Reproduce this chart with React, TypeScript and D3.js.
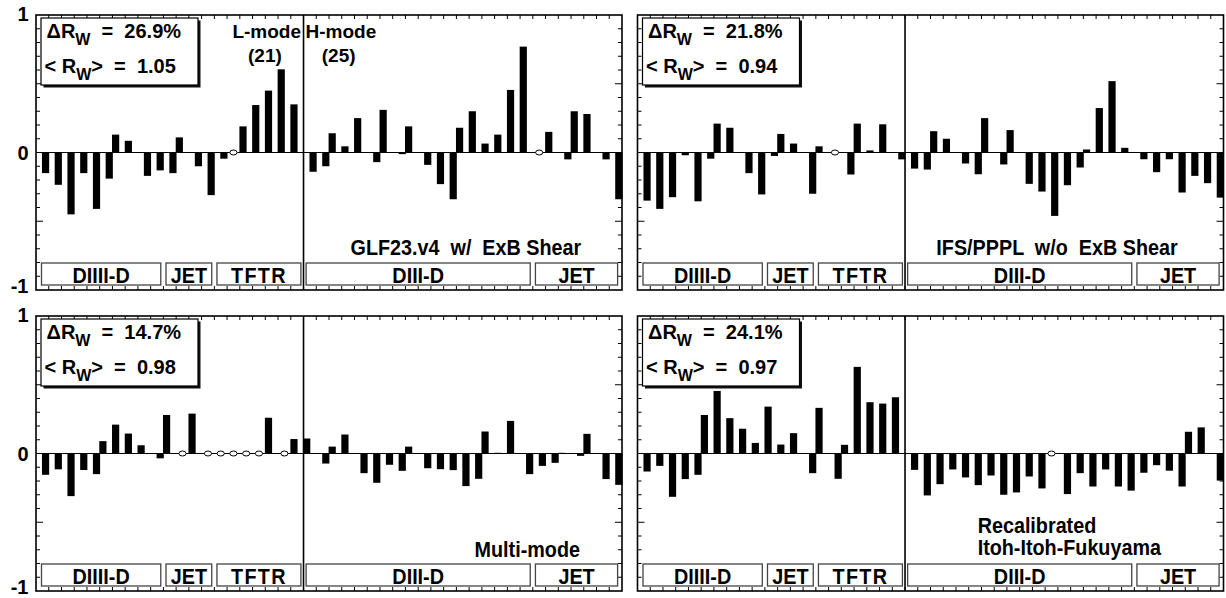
import React from "react";
import * as d3 from "d3";

// ---------- data ----------
const L_COUNT = 21;
const H_COUNT = 25;

// (R_sim - R_exp)/R_exp per discharge; null = no value (open circle)
const glf23: (number | null)[] = [
  -0.15, -0.235, -0.45, -0.15, -0.41, -0.19, 0.13, 0.085, -0.17, -0.13, -0.15, 0.11, -0.1, -0.31, -0.045, null, 0.19, 0.345, 0.45, 0.605, 0.35,
  -0.14, -0.1, 0.14, 0.045, 0.25, -0.07, 0.31, -0.012, 0.19, -0.09, -0.23, -0.34, 0.18, 0.3, 0.065, 0.13, 0.455, 0.77, null, 0.15, -0.05, 0.3, 0.28, -0.05, -0.34,
];
const ifsPppl: (number | null)[] = [
  -0.35, -0.41, -0.325, -0.02, -0.355, -0.045, 0.21, 0.18, -0.15, -0.305, -0.025, 0.135, 0.065, -0.3, 0.045, null, -0.16, 0.21, 0.015, 0.205, -0.05,
  -0.117, -0.124, 0.155, 0.1, -0.08, -0.158, 0.25, -0.087, 0.163, -0.228, -0.284, -0.461, -0.238, -0.109, 0.022, 0.323, 0.519, 0.034, -0.049, -0.143, -0.049, -0.291, -0.17, -0.223, -0.328,
];
const multiMode: (number | null)[] = [
  -0.155, -0.115, -0.31, -0.12, -0.15, 0.09, 0.21, 0.145, 0.06, -0.035, 0.28, null, 0.29, null, null, null, null, null, 0.26, null, 0.105,
  0.109, -0.073, 0.05, 0.138, -0.143, -0.213, -0.082, -0.126, 0.05, -0.107, -0.114, -0.121, -0.237, -0.184, 0.16, 0.005, 0.237, -0.15, -0.09, -0.068, 0.005, -0.017, 0.143, -0.186, -0.228,
];
const iifRecal: (number | null)[] = [
  -0.131, -0.09, -0.315, -0.186, -0.155, 0.28, 0.455, 0.257, 0.18, 0.077, 0.341, 0.065, 0.148, -0.143, 0.332, -0.184, 0.063, 0.63, 0.373, 0.363, 0.409,
  -0.119, -0.305, -0.223, -0.116, -0.174, -0.23, -0.16, -0.3, -0.283, -0.167, -0.254, null, -0.295, -0.143, -0.24, -0.116, -0.24, -0.27, -0.14, -0.085, -0.125, -0.24, 0.158, 0.19, -0.197,
];

const deltaRw = ["26.9%", "21.8%", "14.7%", "24.1%"];
const meanRw = ["1.05", "0.94", "0.98", "0.97"];
const modelTitles = [
  ["GLF23.v4  w/  ExB Shear"],
  ["IFS/PPPL  w/o  ExB Shear"],
  ["Multi-mode"],
  ["Recalibrated", "Itoh-Itoh-Fukuyama"],
];
const machineGroups = [
  { name: "DIIII-D", start: 0, end: 10 },
  { name: "JET", start: 10, end: 14 },
  { name: "TFTR", start: 14, end: 21 },
  { name: "DIII-D", start: 21, end: 39 },
  { name: "JET", start: 39, end: 46 },
];
const yTickLabels = [1, 0, -1];
const modeLabels = ["L-mode", "H-mode"];
const modeCounts = ["(21)", "(25)"];

// ---------- layout ----------
const PANEL_W = 586;
const PANEL_H = 275;
const BAR_W = 7.2;
const FONT = "'Liberation Sans', Arial, Helvetica, sans-serif";
const NARROW = 0.92;

const panels = [
  { x0: 36, y0: 15, series: glf23, labels: true, title: { anchor: "end", slot: 42.8, dy: [240] } },
  { x0: 637.5, y0: 15, series: ifsPppl, labels: false, title: { anchor: "end", slot: 42.4, dy: [240] } },
  { x0: 36, y0: 316, series: multiMode, labels: true, title: { anchor: "end", slot: 42.7, dy: [241] } },
  { x0: 637.5, y0: 316, series: iifRecal, labels: false, title: { anchor: "start", slot: 26.7, dy: [217, 239] } },
];

function Panel({ idx }: { idx: number }) {
  const p = panels[idx];
  const n = L_COUNT + H_COUNT;
  const x = d3.scaleLinear().domain([0, n]).range([0, PANEL_W]);
  const y = d3.scaleLinear().domain([-1, 1]).range([PANEL_H, 0]);
  const xTicks = d3.range(1, n);
  const yTicks = d3.range(-9, 10).map((d) => d / 10);
  const y0 = y(0);

  return (
    <g transform={`translate(${p.x0},${p.y0})`} fontFamily={FONT} fontWeight="bold">
      {/* zero line */}
      <line x1={0} x2={PANEL_W} y1={y0} y2={y0} stroke="#000" strokeWidth={1.2} />
      {/* bars */}
      {p.series.map((v, i) => {
        if (v == null) return null;
        const cx = x(i + (v > 0 ? 0.25 : 0.75));
        return (
          <rect
            key={"b" + i}
            x={cx - BAR_W / 2}
            y={Math.min(y(v), y0)}
            width={BAR_W}
            height={Math.max(0.8, Math.abs(y(v) - y0))}
            fill="#000"
          />
        );
      })}
      {/* empty markers */}
      {p.series.map((v, i) =>
        v == null ? (
          <ellipse key={"c" + i} cx={x(i + 0.5)} cy={y0} rx={3.6} ry={2.5} fill="#fff" stroke="#000" strokeWidth={1} />
        ) : null
      )}
      {/* L/H divider */}
      <line x1={x(L_COUNT)} x2={x(L_COUNT)} y1={0} y2={PANEL_H} stroke="#000" strokeWidth={1.6} />
      {/* x ticks */}
      {xTicks.map((t) => (
        <g key={"xt" + t}>
          <line x1={x(t)} x2={x(t)} y1={0} y2={4} stroke="#000" strokeWidth={1} />
          <line x1={x(t)} x2={x(t)} y1={PANEL_H} y2={PANEL_H - 4} stroke="#000" strokeWidth={1} />
        </g>
      ))}
      {/* y ticks */}
      {yTicks.map((t) => {
        const len = Math.abs(Math.abs(t) - 0.5) < 1e-6 ? 7 : 4;
        return (
          <g key={"yt" + t}>
            <line x1={0} x2={len} y1={y(t)} y2={y(t)} stroke="#000" strokeWidth={1} />
            <line x1={PANEL_W} x2={PANEL_W - len} y1={y(t)} y2={y(t)} stroke="#000" strokeWidth={1} />
          </g>
        );
      })}
      {/* machine boxes */}
      {machineGroups.map((g, gi) => {
        const xa = x(g.start) + (g.start === 0 ? 5.5 : 2.6);
        const xb = x(g.end) - (g.end === n ? 4.4 : 2.6);
        return (
          <g key={"mg" + gi}>
            <rect x={xa} y={248} width={xb - xa} height={22} fill="#fff" stroke="#444" strokeWidth={1.3} />
            <text
              transform={`translate(${(xa + xb) / 2},268) scale(${NARROW - 0.02},1)`}
              textAnchor="middle"
              fontSize={22}
              letterSpacing={g.name === "TFTR" ? 1.5 : 0}
            >
              {g.name}
            </text>
          </g>
        );
      })}
      {/* statistics box */}
      <rect x={7.5} y={5.5} width={157} height={67} fill="#111" />
      <rect x={5} y={3} width={157} height={67} fill="#fff" stroke="#000" strokeWidth={1.2} />
      <text x={10.5} y={22.5} fontSize={20} style={{ whiteSpace: "pre" }}>
        <tspan>ΔR</tspan>
        <tspan fontSize={16} dy={7}>W</tspan>
        <tspan dy={-7}>{"  =  " + deltaRw[idx]}</tspan>
      </text>
      <text x={8.5} y={58} fontSize={20} style={{ whiteSpace: "pre" }}>
        <tspan>{"< R"}</tspan>
        <tspan fontSize={16} dy={7}>W</tspan>
        <tspan dy={-7}>{">  =  " + meanRw[idx]}</tspan>
      </text>
      {/* model title */}
      {modelTitles[idx].map((line, li) => (
        <text
          key={"t" + li}
          transform={`translate(${x(p.title.slot)},${p.title.dy[li]}) scale(${NARROW},1)`}
          textAnchor={p.title.anchor as any}
          fontSize={21.5}
          style={{ whiteSpace: "pre" }}
        >
          {line}
        </text>
      ))}
      {/* mode labels (first panel only) */}
      {idx === 0 && (
        <g fontSize={19}>
          <text x={x(L_COUNT) - 2.5} y={23} textAnchor="end">{modeLabels[0]}</text>
          <text x={x(17.97)} y={46.5} textAnchor="middle">{modeCounts[0]}</text>
          <text x={x(L_COUNT) + 2} y={23} textAnchor="start">{modeLabels[1]}</text>
          <text x={x(23.76)} y={46.5} textAnchor="middle">{modeCounts[1]}</text>
        </g>
      )}
      {/* y labels */}
      {p.labels &&
        yTickLabels.map((t) => (
          <text key={"yl" + t} x={-7.5} y={y(t) + (t === 1 ? 5.5 : t === 0 ? 7 : 3)} textAnchor="end" fontSize={20}>
            {String(t)}
          </text>
        ))}
      {/* frame */}
      <rect x={0} y={0} width={PANEL_W} height={PANEL_H} fill="none" stroke="#000" strokeWidth={1.6} />
    </g>
  );
}

export default function App() {
  return (
    <svg width={1226} height={598} style={{ position: "absolute", left: 0, top: 0, background: "#fff" }}>
      <rect x={0} y={0} width={1226} height={598} fill="#fff" />
      {panels.map((_, i) => (
        <Panel key={i} idx={i} />
      ))}
    </svg>
  );
}
